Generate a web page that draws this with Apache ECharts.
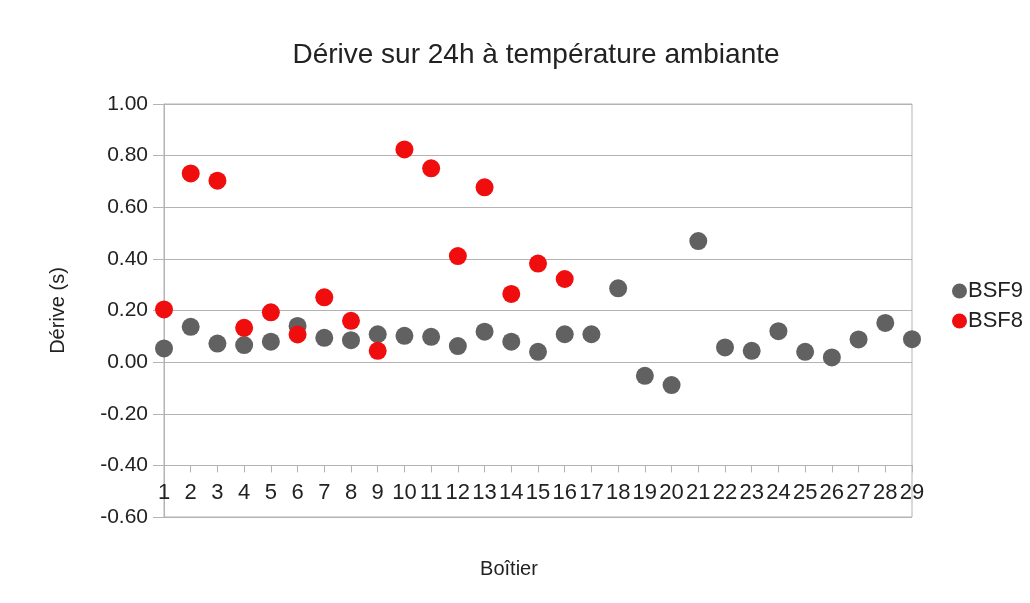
<!DOCTYPE html>
<html>
<head>
<meta charset="utf-8">
<script src="https://cdn.jsdelivr.net/npm/echarts@6/dist/echarts.min.js"></script>
<style>
	html, body { margin: 0; padding: 0; background: #fff; }
	#chart { width: 1030px; height: 603px; }
</style>
</head>
<body>
<div id="chart"></div>
<script>
	// numéros de boîtier
	var boitiers = [1,2,3,4,5,6,7,8,9,10,11,12,13,14,15,16,17,18,19,20,21,22,23,24,25,26,27,28,29];
	// dérive BSF9 (s)
	var bsf9 = [0.053,0.137,0.072,0.066,0.079,0.140,0.094,0.085,0.108,0.102,0.098,0.062,0.118,0.079,0.040,0.108,0.108,0.286,-0.053,-0.089,0.469,0.057,0.044,0.120,0.040,0.018,0.088,0.152,0.089];
	// dérive BSF8 (s), seulement les 16 premiers boîtiers
	var bsf8 = [0.204,0.731,0.703,0.133,0.193,0.107,0.251,0.160,0.044,0.824,0.751,0.411,0.677,0.264,0.382,0.322];

	var gridTop = 104, gridBottom = 86;
	var plotH = 603 - gridTop - gridBottom;
	// l'axe X croise à -0.40 (1.6 de plage au total)
	var xOffset = -plotH * 0.2 / 1.6;

	function toPairs(vals) {
		var out = [];
		for (var i = 0; i < vals.length; i++) {
			out.push([boitiers[i], vals[i]]);
		}
		return out;
	}

	var chart = echarts.init(document.getElementById('chart'));
	var font = 'Liberation Sans, Arial, sans-serif';
	var option = {
		backgroundColor: '#fff',
		textStyle: { fontFamily: font },
		title: {
			text: 'Dérive sur 24h à température ambiante',
			left: 531,
			top: 36,
			textAlign: 'center',
			textStyle: { fontSize: 28, fontWeight: 'normal', color: '#222', fontFamily: font }
		},
		legend: {
			orient: 'vertical',
			left: 947,
			top: 275,
			itemWidth: 15,
			itemHeight: 15,
			itemGap: 8,
			icon: 'circle',
			textStyle: { fontSize: 22, color: '#222', fontFamily: font, padding: [0, 0, 0, -4] },
			data: ['BSF9', 'BSF8']
		},
		grid: {
			left: 164,
			right: 118,
			top: gridTop,
			bottom: gridBottom,
			show: true,
			borderColor: '#b3b3b3',
			borderWidth: 1
		},
		xAxis: {
			type: 'value',
			min: 1,
			max: 29,
			interval: 1,
			offset: xOffset,
			name: 'Boîtier',
			nameLocation: 'middle',
			nameGap: 94,
			nameTextStyle: { fontSize: 20, color: '#222', padding: [0, 58, 0, 0] },
			axisLine: { show: true, onZero: false, lineStyle: { color: '#b3b3b3', width: 1 } },
			axisTick: { show: true, length: 7, lineStyle: { color: '#b3b3b3' } },
			axisLabel: { fontSize: 22, color: '#222', margin: 17 },
			splitLine: { show: false }
		},
		yAxis: {
			type: 'value',
			min: -0.6,
			max: 1.0,
			interval: 0.2,
			name: 'Dérive (s)',
			nameLocation: 'middle',
			nameGap: 96,
			nameTextStyle: { fontSize: 20, color: '#222' },
			axisLine: { show: true, onZero: false, lineStyle: { color: '#b3b3b3', width: 1 } },
			axisTick: { show: true, length: 11, lineStyle: { color: '#b3b3b3' } },
			axisLabel: {
				fontSize: 21, color: '#222', margin: 16,
				formatter: function (v) { return v.toFixed(2); }
			},
			splitLine: { show: true, lineStyle: { color: '#b3b3b3', width: 1 } }
		},
		series: [
			{
				name: 'BSF9',
				type: 'scatter',
				symbol: 'circle',
				symbolSize: 18,
				itemStyle: { color: '#616161', opacity: 1 },
				data: toPairs(bsf9)
			},
			{
				name: 'BSF8',
				type: 'scatter',
				symbol: 'circle',
				symbolSize: 18,
				itemStyle: { color: '#f00d0d', opacity: 1 },
				data: toPairs(bsf8)
			}
		]
	};
	chart.setOption(option);
</script>
</body>
</html>
